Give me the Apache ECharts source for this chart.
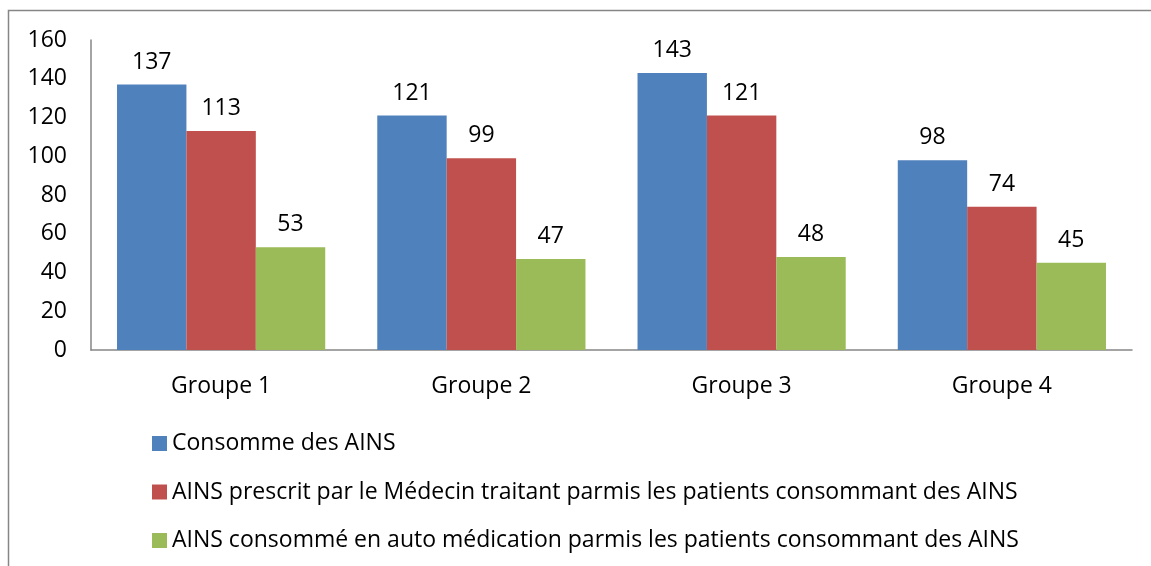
<!DOCTYPE html>
<html>
<head>
<meta charset="utf-8">
<script src="https://cdn.jsdelivr.net/npm/echarts@6/dist/echarts.min.js"></script>
<style>
  html, body { margin: 0; padding: 0; background: #fff; }
  #chart { width: 1151px; height: 566px; }
</style>
</head>
<body>
<div id="chart"></div>
<script>
// categories and values
const groups = ["Groupe 1", "Groupe 2", "Groupe 3", "Groupe 4"];
const consomme = [137, 121, 143, 98];
const prescrit = [113, 99, 121, 74];
const autoMedication = [53, 47, 48, 45];
const seriesNames = [
  "Consomme des AINS",
  "AINS prescrit par le Médecin traitant parmis les patients consommant des AINS",
  "AINS consommé en auto médication parmis les patients consommant des AINS"
];
const colors = ["#4F81BD", "#C0504D", "#9BBB59"];

const font = "'Open Sans', 'Noto Sans', sans-serif";
const fs = 23;

const chart = echarts.init(document.getElementById("chart"));

const barLabel = {
  show: true,
  position: "top",
  distance: 11,
  color: "#000",
  fontSize: fs,
  fontFamily: font
};

chart.setOption({
  animation: false,
  color: colors,
  textStyle: { fontFamily: font },
  graphic: [
    {
      // outer chart frame (only left and top edges are visible)
      type: "rect",
      shape: { x: 8.5, y: 10.5, width: 1300, height: 700 },
      style: { fill: "none", stroke: "#868686", lineWidth: 1.5 }
    }
  ],
  grid: { left: 91, right: 19, top: 40, bottom: 216 },
  legend: {
    orient: "vertical",
    left: 152,
    top: 432,
    padding: 0,
    itemWidth: 15,
    itemHeight: 15,
    itemGap: 25.5,
    icon: "rect",
    textStyle: { fontSize: fs, color: "#000", fontFamily: font, lineHeight: 23 },
    data: seriesNames
  },
  xAxis: {
    type: "category",
    data: groups,
    axisLine: { lineStyle: { color: "#868686", width: 1.5 } },
    axisTick: { show: false },
    axisLabel: { color: "#000", fontSize: fs, margin: 25, fontFamily: font }
  },
  yAxis: {
    type: "value",
    min: 0,
    max: 160,
    interval: 20,
    axisLine: { show: true, lineStyle: { color: "#868686", width: 1.5 } },
    axisTick: { show: false },
    splitLine: { show: false },
    axisLabel: { color: "#000", fontSize: fs, margin: 24, fontFamily: font }
  },
  series: [
    { name: seriesNames[0], type: "bar", data: consomme, barGap: "0%", barCategoryGap: "20%", label: barLabel },
    { name: seriesNames[1], type: "bar", data: prescrit, barGap: "0%", barCategoryGap: "20%", label: barLabel },
    { name: seriesNames[2], type: "bar", data: autoMedication, barGap: "0%", barCategoryGap: "20%", label: barLabel }
  ]
});
</script>
</body>
</html>
